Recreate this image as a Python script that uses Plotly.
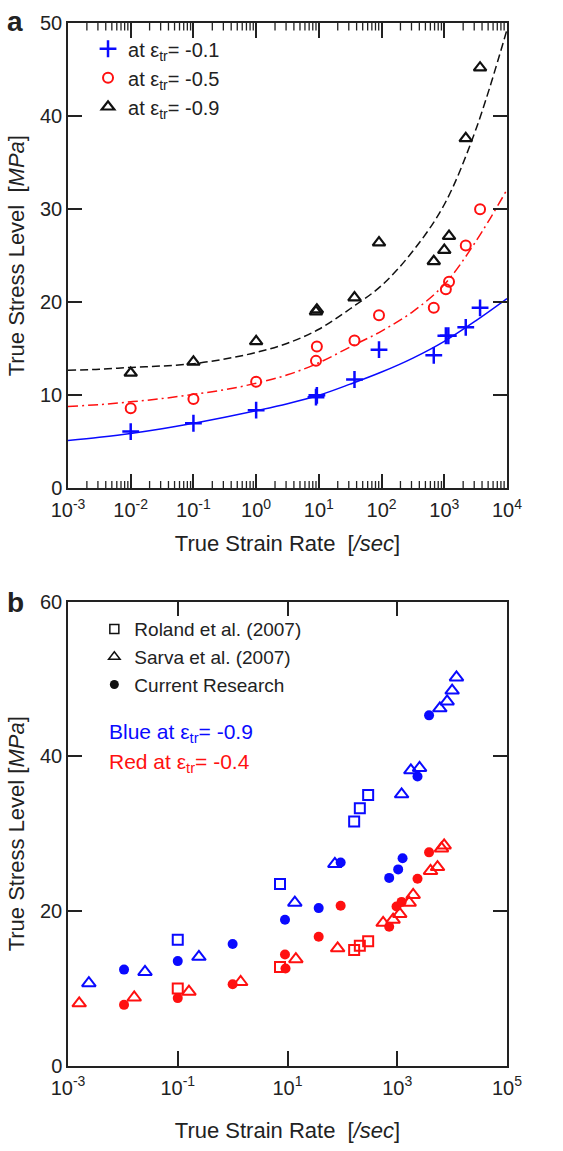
import plotly.graph_objects as go

# ---------------- Panel a: stress vs strain rate at three strain levels ----------------
rate_a_01 = [0.01, 0.1, 1, 9.0, 9.3, 37, 91, 680, 1060, 1160, 2200, 3720]
stress_a_01 = [6.1, 7.0, 8.4, 9.8, 10.0, 11.7, 14.9, 14.3, 16.4, 16.4, 17.3, 19.4]

rate_a_05 = [0.01, 0.1, 1, 9.0, 9.3, 37, 91, 680, 1060, 1190, 2200, 3720]
stress_a_05 = [8.6, 9.6, 11.45, 13.7, 15.25, 15.9, 18.6, 19.4, 21.4, 22.2, 26.1, 30.0]

rate_a_09 = [0.01, 0.1, 1, 9.0, 9.3, 37, 91, 680, 1000, 1190, 2200, 3720]
stress_a_09 = [12.4, 13.6, 15.8, 19.0, 19.2, 20.5, 26.4, 24.4, 25.6, 27.1, 37.6, 45.2]

# fitted trend curves, sampled every half decade
fit_rate = [0.001, 0.00316, 0.01, 0.0316, 0.1, 0.316, 1, 3.16, 10, 31.6,
            100, 316, 1000, 3162, 10000]
fit_01 = [5.15, 5.5, 5.9, 6.4, 7.0, 7.65, 8.35, 9.1, 10.0, 11.2, 12.5, 14.0, 15.8, 18.0, 20.4]
fit_05 = [8.8, 9.0, 9.3, 9.65, 10.1, 10.6, 11.3, 12.2, 13.5, 15.2, 16.9, 19.0, 21.9, 26.5, 32.1]
fit_09 = [12.7, 12.8, 13.0, 13.15, 13.4, 13.9, 14.6, 15.6, 17.1, 19.3, 21.8, 25.5, 30.5, 38.5, 49.3]

# ---------------- Panel b: comparison with published data ----------------
roland_rate = [0.1, 7.3, 164, 208, 295]
roland_blue = [16.3, 23.5, 31.6, 33.3, 35.0]
roland_red = [10.0, 12.8, 15.0, 15.55, 16.1]

sarva_rate_blue = [0.0024, 0.0253, 0.243, 13.6, 73, 1200, 1770, 2550, 5970, 8110, 10000, 12000]
sarva_blue = [10.7, 12.15, 14.1, 21.1, 26.1, 35.1, 38.2, 38.5, 46.2, 47.1, 48.5, 50.2]
sarva_rate_red = [0.0016, 0.0161, 0.16, 1.4, 14.2, 82, 553, 840, 1110, 1650, 1950,
                  4040, 5420, 6400, 7160]
sarva_red = [8.1, 8.85, 9.6, 10.85, 13.8, 15.2, 18.5, 18.9, 19.65, 21.1, 22.1,
             25.2, 25.7, 28.1, 28.5]

current_rate_blue = [0.0105, 0.1, 1, 9, 37, 93, 713, 1040, 1250, 2340, 3800]
current_blue = [12.45, 13.55, 15.75, 18.9, 20.4, 26.3, 24.3, 25.4, 26.85, 37.4, 45.3]
current_rate_red = [0.0105, 0.1, 1, 9, 9.2, 37, 93, 713, 970, 1200, 2340, 3800]
current_red = [7.9, 8.77, 10.55, 14.4, 12.6, 16.7, 20.7, 18.0, 20.6, 21.2, 24.2, 27.6]

# tick labels
ticks_a = [1e-3, 1e-2, 1e-1, 1, 10, 100, 1000, 10000]
ticklabels_a = ["10<sup>-3</sup>", "10<sup>-2</sup>", "10<sup>-1</sup>", "10<sup>0</sup>",
                "10<sup>1</sup>", "10<sup>2</sup>", "10<sup>3</sup>", "10<sup>4</sup>"]
ticks_b = [1e-3, 1e-1, 10, 1000, 1e5]
ticklabels_b = ["10<sup>-3</sup>", "10<sup>-1</sup>", "10<sup>1</sup>", "10<sup>3</sup>",
                "10<sup>5</sup>"]

# minor log ticks (2..9 within each decade) for the upper panel
minor_ticks_a = [m * 10.0 ** e for e in range(-3, 4) for m in range(2, 10)]
YMAX_A = 50
MINOR_LEN_A = 0.8  # minor tick length in stress units (about 7-8 px)

BLUE = "#0a0aff"
RED = "#ff1010"
BLACK = "#111111"
AXIS = "#222222"
TEXT = "#222222"
FONT = "Liberation Sans, Arial, sans-serif"

fig = go.Figure()

# --- panel a: minor log ticks along the bottom and top frame edges ---
mx, my = [], []
for v in minor_ticks_a:
    mx += [v, v, None, v, v, None]
    my += [0, MINOR_LEN_A, None, YMAX_A - MINOR_LEN_A, YMAX_A, None]
fig.add_trace(go.Scatter(x=mx, y=my, mode="lines", line=dict(color=AXIS, width=1.3),
                         hoverinfo="skip", showlegend=False, xaxis="x", yaxis="y"))

# --- panel a: fitted curves ---
fig.add_trace(go.Scatter(x=fit_rate, y=fit_01, mode="lines", line=dict(color=BLUE, width=1.5, shape="spline"),
                         showlegend=False, xaxis="x", yaxis="y"))
fig.add_trace(go.Scatter(x=fit_rate, y=fit_05, mode="lines",
                         line=dict(color=RED, width=1.5, shape="spline", dash="10px,4px,2px,4px"),
                         showlegend=False, xaxis="x", yaxis="y"))
fig.add_trace(go.Scatter(x=fit_rate, y=fit_09, mode="lines",
                         line=dict(color=BLACK, width=1.5, shape="spline", dash="8px,4px"),
                         showlegend=False, xaxis="x", yaxis="y"))

# --- panel a: measured points ---
fig.add_trace(go.Scatter(x=rate_a_01, y=stress_a_01, mode="markers", name="at ε<sub>tr</sub>= -0.1",
                         marker=dict(symbol="cross-thin", size=12, color=BLUE, line=dict(color=BLUE, width=2.5)),
                         xaxis="x", yaxis="y", legend="legend"))
fig.add_trace(go.Scatter(x=rate_a_05, y=stress_a_05, mode="markers", name="at ε<sub>tr</sub>= -0.5",
                         marker=dict(symbol="circle-open", size=10, color=RED, line=dict(color=RED, width=2)),
                         xaxis="x", yaxis="y", legend="legend"))
fig.add_trace(go.Scatter(x=rate_a_09, y=stress_a_09, mode="markers", name="at ε<sub>tr</sub>= -0.9",
                         marker=dict(symbol="triangle-up-open", size=11, color=BLACK, line=dict(color=BLACK, width=2.2)),
                         xaxis="x", yaxis="y", legend="legend"))

# --- panel b: data sets ---
sq = dict(symbol="square-open", size=10)
tri = dict(symbol="triangle-up-open", size=12)
dot = dict(symbol="circle", size=10)

def pts(x, y, style, color):
    m = dict(style)
    m["color"] = color
    m["line"] = dict(color=color, width=2 if "open" in style["symbol"] else 0)
    return go.Scatter(x=x, y=y, mode="markers", marker=m, showlegend=False,
                      xaxis="x2", yaxis="y2")

fig.add_trace(pts(roland_rate, roland_blue, sq, BLUE))
fig.add_trace(pts(roland_rate, roland_red, sq, RED))
fig.add_trace(pts(sarva_rate_blue, sarva_blue, tri, BLUE))
fig.add_trace(pts(sarva_rate_red, sarva_red, tri, RED))
fig.add_trace(pts(current_rate_blue, current_blue, dot, BLUE))
fig.add_trace(pts(current_rate_red, current_red, dot, RED))

# legend entries for panel b (symbol key only)
for label, style in [("Roland et al. (2007)", dict(symbol="square-open", size=9)),
                     ("Sarva et al. (2007)", dict(symbol="triangle-up-open", size=10)),
                     ("Current Research", dict(symbol="circle", size=9))]:
    m = dict(style)
    m["color"] = BLACK
    m["line"] = dict(color=BLACK, width=1.5 if "open" in style["symbol"] else 0)
    fig.add_trace(go.Scatter(x=[None], y=[None], mode="markers", name=label, marker=m,
                             xaxis="x2", yaxis="y2", legend="legend2"))

axis_common = dict(showline=True, linecolor=AXIS, linewidth=1.5, mirror="ticks",
                   ticks="inside", tickcolor=AXIS, tickwidth=1.6, showgrid=False, zeroline=False,
                   tickfont=dict(family=FONT, size=20, color=TEXT))

fig.update_layout(
    width=563, height=1151,
    margin=dict(l=68, r=56, t=14, b=77),
    paper_bgcolor="white", plot_bgcolor="white",
    font=dict(family=FONT, color=TEXT),
    xaxis=dict(type="log", range=[-3, 4], domain=[0, 1], anchor="y",
               tickmode="array", tickvals=ticks_a, ticktext=ticklabels_a, ticklen=15,
               ticklabelstandoff=3,
               title=dict(text="True Strain Rate  [<i>/sec</i>]", font=dict(size=22, color=TEXT), standoff=15),
               **axis_common),
    yaxis=dict(range=[0, YMAX_A], domain=[0.5538, 1], anchor="x", dtick=10, ticklen=14,
               title=dict(text="True Stress Level  [<i>MPa</i>]", font=dict(size=22, color=TEXT), standoff=9),
               **axis_common),
    xaxis2=dict(type="log", range=[-3, 5], domain=[0, 1], anchor="y2",
                tickmode="array", tickvals=ticks_b, ticktext=ticklabels_b, ticklen=15,
                ticklabelstandoff=3,
                title=dict(text="True Strain Rate  [<i>/sec</i>]", font=dict(size=22, color=TEXT), standoff=25),
                **axis_common),
    yaxis2=dict(range=[0, 60], domain=[0, 0.4453], anchor="x2", dtick=20, ticklen=14,
                title=dict(text="True Stress Level [<i>MPa</i>]", font=dict(size=22, color=TEXT), standoff=9),
                **axis_common),
    legend=dict(x=0.0456, y=0.994, xanchor="left", yanchor="top", bgcolor="rgba(0,0,0,0)",
                font=dict(family=FONT, size=20, color=TEXT), tracegroupgap=0),
    legend2=dict(x=0.06, y=0.437, xanchor="left", yanchor="top", bgcolor="rgba(0,0,0,0)",
                 font=dict(family=FONT, size=19, color=TEXT), tracegroupgap=0),
    annotations=[
        dict(text="<b>a</b>", x=-0.1207, y=1.001, xref="paper", yref="paper", showarrow=False,
             font=dict(family=FONT, size=28, color=TEXT), xanchor="center", yanchor="middle"),
        dict(text="<b>b</b>", x=-0.1207, y=0.4445, xref="paper", yref="paper", showarrow=False,
             font=dict(family=FONT, size=28, color=TEXT), xanchor="center", yanchor="middle"),
        dict(text="Blue at ε<sub>tr</sub>= -0.9", x=0.0888, y=0.3195, xref="paper", yref="paper",
             showarrow=False, xanchor="left", yanchor="middle",
             font=dict(family=FONT, size=21, color=BLUE)),
        dict(text="Red at ε<sub>tr</sub>= -0.4", x=0.0888, y=0.2905, xref="paper", yref="paper",
             showarrow=False, xanchor="left", yanchor="middle",
             font=dict(family=FONT, size=21, color=RED)),
    ],
)

fig.write_html("out.html")
